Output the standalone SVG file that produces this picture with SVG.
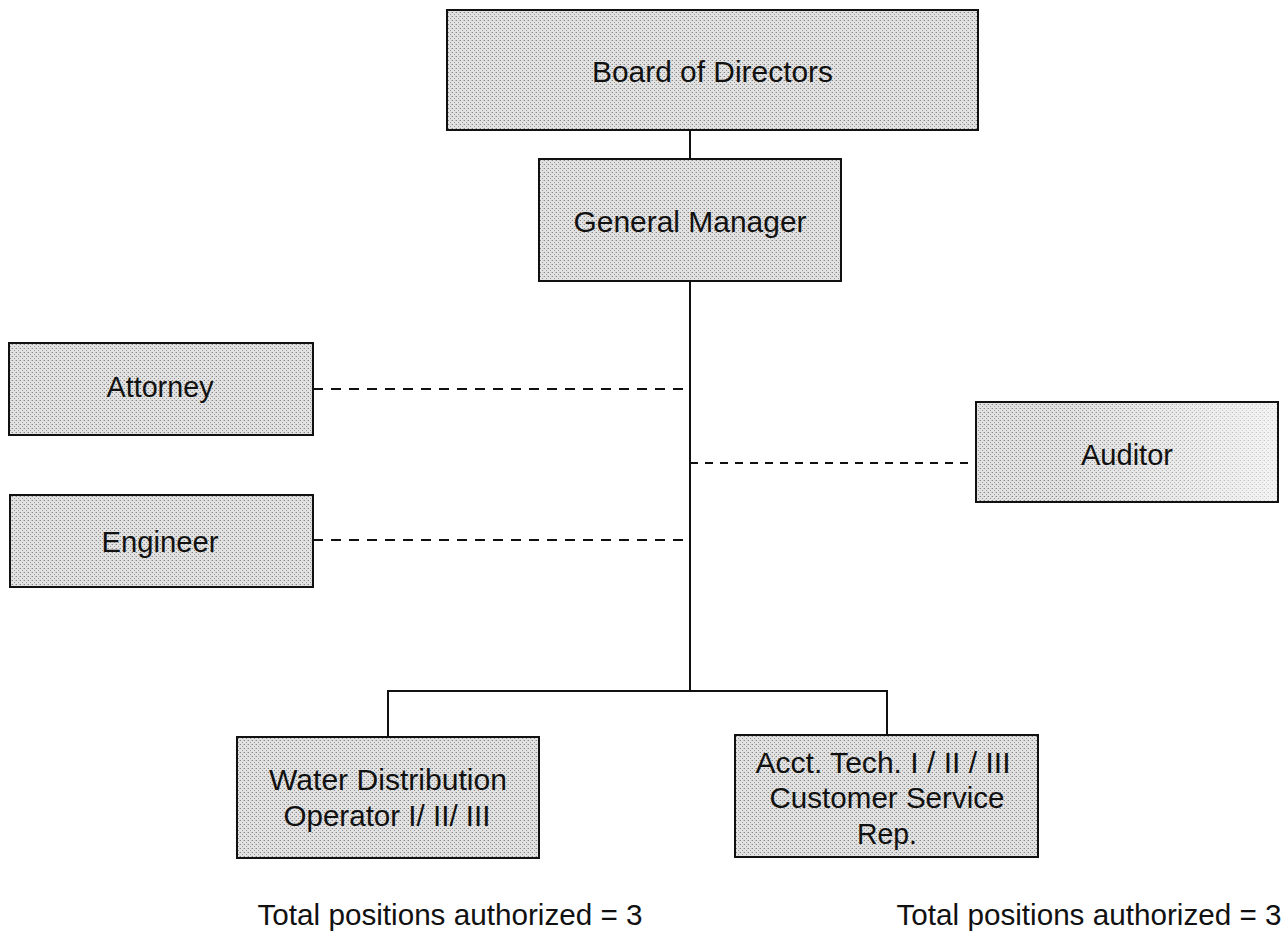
<svg xmlns="http://www.w3.org/2000/svg" width="1283" height="943" viewBox="0 0 1283 943">
<style>
.box{fill:url(#stipple);stroke:#111;stroke-width:2}
.t{font-family:"Liberation Sans",Arial,sans-serif;font-size:29px;fill:#111;text-anchor:middle}
.solid{stroke:#111;stroke-width:2;fill:none}
.dash{stroke:#111;stroke-width:2.2;fill:none;stroke-dasharray:10 8}
.dash2{stroke:#111;stroke-width:1.8;fill:none;stroke-dasharray:8 7}
</style>
<defs>
<pattern id="stipple" width="4" height="4" patternUnits="userSpaceOnUse">
<rect width="4" height="4" fill="#e2e2e2"/>
<rect x="0" y="0" width="1" height="1" fill="#858585"/>
<rect x="2" y="2" width="1" height="1" fill="#959595"/>
<rect x="3" y="0" width="1" height="1" fill="#c0c0c0"/>
</pattern>
<linearGradient id="fade" x1="0" y1="0" x2="1" y2="0">
<stop offset="0.3" stop-color="#fff" stop-opacity="0"/>
<stop offset="1" stop-color="#fff" stop-opacity="0.6"/>
</linearGradient>
</defs>
<rect width="1283" height="943" fill="#fff"/>
<g id="connectors">
<line class="solid" x1="690" y1="130" x2="690" y2="159"/>
<line class="solid" x1="690" y1="281" x2="690" y2="691"/>
<polyline class="solid" points="388,737 388,691 887,691 887,735"/>
<line class="dash" x1="313" y1="389" x2="690" y2="389"/>
<line class="dash" x1="313" y1="540" x2="690" y2="540"/>
<line class="dash2" x1="690" y1="463" x2="976" y2="463"/>
</g>
<g id="board">
<rect class="box" x="447" y="10" width="531" height="120"/>
<text class="t" x="712.5" y="82" textLength="241" lengthAdjust="spacingAndGlyphs">Board of Directors</text>
</g>
<g id="gm">
<rect class="box" x="539" y="159" width="302" height="122"/>
<text class="t" x="690" y="232" textLength="233" lengthAdjust="spacingAndGlyphs">General Manager</text>
</g>
<g id="attorney">
<rect class="box" x="9" y="343" width="304" height="92"/>
<text class="t" x="160" y="397" textLength="107" lengthAdjust="spacingAndGlyphs">Attorney</text>
</g>
<g id="engineer">
<rect class="box" x="10" y="495" width="303" height="92"/>
<text class="t" x="160" y="552" textLength="117" lengthAdjust="spacingAndGlyphs">Engineer</text>
</g>
<g id="auditor">
<rect class="box" x="976" y="402" width="302" height="100"/>
<rect x="977" y="403" width="300" height="98" fill="url(#fade)"/>
<text class="t" x="1127" y="465" textLength="92" lengthAdjust="spacingAndGlyphs">Auditor</text>
</g>
<g id="water">
<rect class="box" x="237" y="737" width="302" height="121"/>
<text class="t" x="388" y="790" textLength="238" lengthAdjust="spacingAndGlyphs">Water Distribution</text>
<text class="t" x="387" y="826" textLength="207" lengthAdjust="spacingAndGlyphs">Operator I/ II/ III</text>
</g>
<g id="acct">
<rect class="box" x="735" y="735" width="303" height="122"/>
<text class="t" x="883" y="773" textLength="255" lengthAdjust="spacingAndGlyphs">Acct. Tech. I / II / III</text>
<text class="t" x="887" y="808" textLength="235" lengthAdjust="spacingAndGlyphs">Customer Service</text>
<text class="t" x="887" y="844" textLength="60" lengthAdjust="spacingAndGlyphs">Rep.</text>
</g>
<g id="labels">
<text class="t" x="450" y="925" textLength="385" lengthAdjust="spacingAndGlyphs">Total positions authorized = 3</text>
<text class="t" x="1089" y="925" textLength="385" lengthAdjust="spacingAndGlyphs">Total positions authorized = 3</text>
</g>
</svg>
